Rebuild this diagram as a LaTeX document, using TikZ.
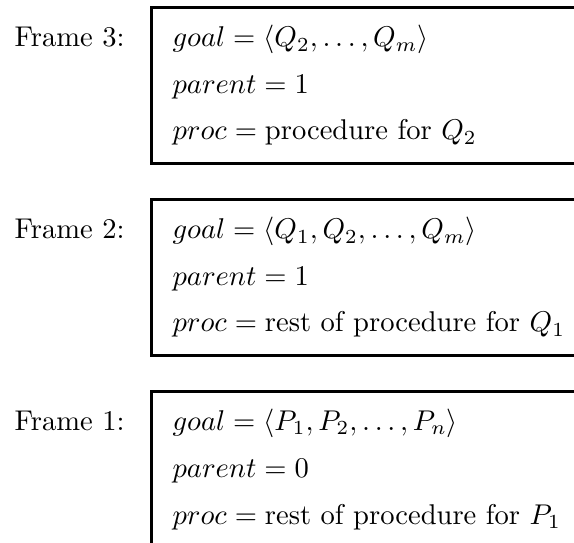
\documentclass[tikz,border=0pt]{standalone}
\usepackage{amsmath,amssymb}
\usetikzlibrary{positioning}

\begin{document}
\begin{tikzpicture}[
    x=0.35pt, y=-0.35pt,
    framebox/.style={draw=black, line width=1.05pt, anchor=north west, inner sep=0pt, minimum width=170pt, minimum height=54.6pt},
    entry/.style={anchor=base west, inner sep=0pt},
    framelabel/.style={anchor=base west, inner sep=0pt}
]
\useasboundingbox (0,0) rectangle (574,543);
\clip (0,0) rectangle (574,543);

% Frame 3
\node[framebox] (box3) at (150,6) {};
\node[framelabel] (lab3) at (14,47) {Frame 3:};
\node[entry] (goal3) at (172,47) {$goal = \langle Q_2, \ldots, Q_m\rangle$};
\node[entry] (parent3) at (172,94) {$parent = 1$};
\node[entry] (proc3) at (172,140) {$proc = \text{procedure for } Q_2$};

% Frame 2
\node[framebox] (box2) at (150,198) {};
\node[framelabel] (lab2) at (14,239) {Frame 2:};
\node[entry] (goal2) at (172,239) {$goal = \langle Q_1, Q_2, \ldots, Q_m\rangle$};
\node[entry] (parent2) at (172,286) {$parent = 1$};
\node[entry] (proc2) at (172,332) {$proc = \text{rest of procedure for } Q_1$};

% Frame 1
\node[framebox] (box1) at (150,390) {};
\node[framelabel] (lab1) at (14,430) {Frame 1:};
\node[entry] (goal1) at (172,430) {$goal = \langle P_1, P_2, \ldots, P_n\rangle$};
\node[entry] (parent1) at (172,477) {$parent = 0$};
\node[entry] (proc1) at (172,524) {$proc = \text{rest of procedure for } P_1$};
\end{tikzpicture}
\end{document}
